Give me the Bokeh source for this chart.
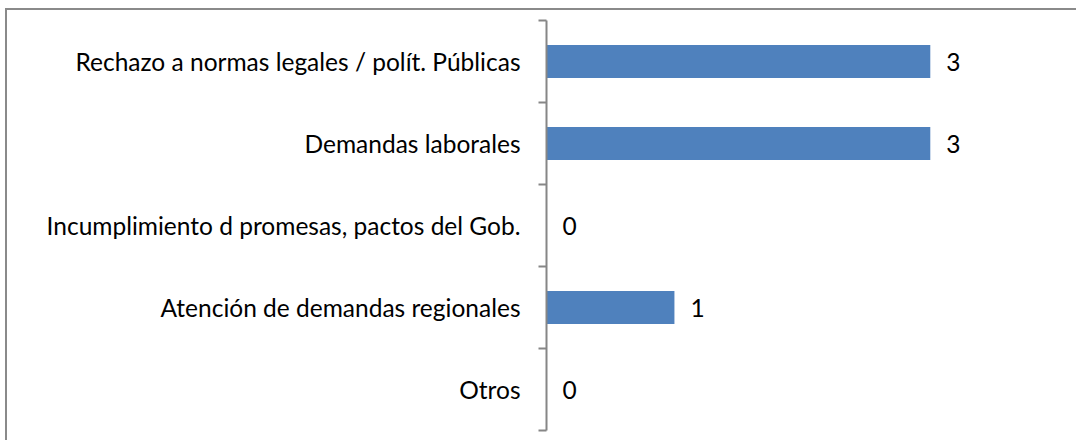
from bokeh.plotting import figure
from bokeh.models import FixedTicker, Range1d, ColumnDataSource
from bokeh.core.properties import value
from bokeh.embed import file_html
from bokeh.resources import INLINE

categories = [
    "Rechazo a normas legales / polít. Públicas",
    "Demandas laborales",
    "Incumplimiento d promesas, pactos del Gob.",
    "Atención de demandas regionales",
    "Otros",
]
values = [3, 3, 0, 1, 0]

n = len(categories)
ypos = [n - i - 0.5 for i in range(n)]
src = ColumnDataSource(dict(y=ypos, v=values, lab=[str(v) for v in values]))

FONT = "Lato"
FS = "24.5px"

p = figure(width=1071, height=432, output_backend="svg", toolbar_location=None,
           x_range=Range1d(0, 4.01), y_range=Range1d(0, n),
           min_border_left=539, min_border_right=19, min_border_top=10, min_border_bottom=12,
           styles={"border-left": "2px solid #8a8a8a", "border-top": "2px solid #8a8a8a",
                   "margin-left": "5px", "margin-top": "8px"})
p.outline_line_color = None
p.xgrid.visible = False
p.ygrid.visible = False
p.xaxis.visible = False
p.background_fill_color = "white"
p.border_fill_color = "white"

p.hbar(y="y", right="v", left=0, height=0.4, source=src, fill_color="#4f81bd", line_color=None)
p.text(x="v", y="y", text="lab", source=src, x_offset=16, text_align="left", text_baseline="middle",
       text_font=value(FONT), text_font_size=FS, text_color="#000000")

ax = p.yaxis[0]
ax.ticker = FixedTicker(ticks=ypos, minor_ticks=[float(i) for i in range(n + 1)])
ax.major_label_overrides = {y: c for y, c in zip(ypos, categories)}
ax.major_tick_line_color = None
ax.major_tick_out = 0
ax.major_tick_in = 0
ax.minor_tick_line_color = "#868686"
ax.minor_tick_line_width = 2
ax.minor_tick_out = 8
ax.minor_tick_in = 0
ax.axis_line_color = "#868686"
ax.axis_line_width = 2
ax.major_label_standoff = 18
ax.major_label_text_font = FONT
ax.major_label_text_font_size = FS
ax.major_label_text_color = "#000000"

open("out.html", "w").write(file_html(p, INLINE))
